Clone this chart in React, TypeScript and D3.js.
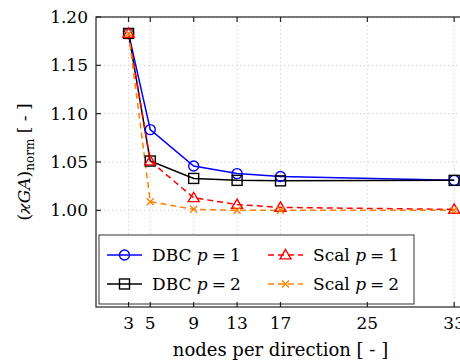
import React from "react";
import * as d3 from "d3";

const nodes = [3, 5, 9, 13, 17, 33];
const dbcP1 = [1.183, 1.0835, 1.0458, 1.038, 1.035, 1.031];
const dbcP2 = [1.183, 1.051, 1.033, 1.031, 1.0305, 1.031];
const scalP1 = [1.183, 1.051, 1.013, 1.006, 1.003, 1.001];
const scalP2 = [1.183, 1.009, 1.001, 1.0, 1.0, 1.0];
const xTicks = [3, 5, 9, 13, 17, 25, 33];
const yTicks = [1.0, 1.05, 1.1, 1.15, 1.2];

const W = 460, H = 363;
const L = 96, T = 17, R = 465, B = 307;
const FONT = "'DejaVu Serif', 'Liberation Serif', serif";

type Series = { name: string; p: string; values: number[]; color: string; dash?: string; marker: string };
const series: Series[] = [
  { name: "DBC", p: "1", values: dbcP1, color: "#0000ff", marker: "circle" },
  { name: "DBC", p: "2", values: dbcP2, color: "#000000", marker: "square" },
  { name: "Scal", p: "1", values: scalP1, color: "#ff0000", dash: "6,4", marker: "triangle" },
  { name: "Scal", p: "2", values: scalP2, color: "#ff8000", dash: "6,4", marker: "cross" },
];

function Marker({ kind, x, y, color }: { kind: string; x: number; y: number; color: string }) {
  if (kind === "circle") return <circle cx={x} cy={y} r={5} fill="none" stroke={color} strokeWidth={1.4} />;
  if (kind === "square") return <rect x={x - 5} y={y - 5} width={10} height={10} fill="none" stroke={color} strokeWidth={1.4} />;
  if (kind === "triangle") {
    const s = 5.5;
    return <path d={`M${x},${y - s}L${x + s},${y + s * 0.7}L${x - s},${y + s * 0.7}Z`} fill="none" stroke={color} strokeWidth={1.4} />;
  }
  const s = 3.5;
  return <path d={`M${x - s},${y - s}L${x + s},${y + s}M${x - s},${y + s}L${x + s},${y - s}`} stroke={color} strokeWidth={1.4} />;
}

export default function App() {
  const x = d3.scaleLinear().domain([0, 34]).range([L, R]);
  const y = d3.scaleLinear().domain([0.9, 1.2]).range([B, T]);
  const line = d3.line<[number, number]>().x((d) => x(d[0])).y((d) => y(d[1]));

  const legend = { x0: 99, y0: 235, x1: 414, y1: 304 };
  const legendItems = [
    { s: series[0], lx: 107, tx: 152, ly: 255 },
    { s: series[1], lx: 107, tx: 152, ly: 284 },
    { s: series[2], lx: 268, tx: 313, ly: 255 },
    { s: series[3], lx: 268, tx: 313, ly: 284 },
  ];

  return (
    <svg width={W} height={H} style={{ position: "absolute", left: 0, top: 0 }} fontFamily={FONT}>
      <rect width={W} height={H} fill="white" />
      {/* grid */}
      {xTicks.map((t) => (
        <line key={"gx" + t} x1={x(t)} x2={x(t)} y1={T} y2={B} stroke="#c8c8c8" strokeWidth={1} strokeDasharray="1,3" />
      ))}
      {yTicks.map((t) => (
        <line key={"gy" + t} x1={L} x2={R} y1={y(t)} y2={y(t)} stroke="#c8c8c8" strokeWidth={1} strokeDasharray="1,3" />
      ))}
      {/* series lines */}
      {series.map((s, i) => (
        <path
          key={"l" + i}
          d={line(nodes.map((n, j) => [n, s.values[j]] as [number, number])) || ""}
          fill="none"
          stroke={s.color}
          strokeWidth={1.5}
          strokeDasharray={s.dash}
        />
      ))}
      {series.map((s, i) =>
        nodes.map((n, j) => <Marker key={"m" + i + "-" + j} kind={s.marker} x={x(n)} y={y(s.values[j])} color={s.color} />)
      )}
      {/* legend */}
      <rect x={legend.x0} y={legend.y0} width={legend.x1 - legend.x0} height={legend.y1 - legend.y0} fill="white" stroke="#333" strokeWidth={1} />
      {legendItems.map((it, i) => (
        <g key={"lg" + i}>
          <line x1={it.lx} x2={it.lx + 35} y1={it.ly} y2={it.ly} stroke={it.s.color} strokeWidth={1.5} strokeDasharray={it.s.dash} />
          <Marker kind={it.s.marker} x={it.lx + 17.5} y={it.ly} color={it.s.color} />
          <text x={it.tx} y={it.ly} dy="0.35em" fontSize={17} fill="#000">
            {it.s.name + " "}
            <tspan fontStyle="italic">p</tspan>
            <tspan dx="4">=</tspan>
            <tspan dx="4">{it.s.p}</tspan>
          </text>
        </g>
      ))}
      {/* frame */}
      <rect x={L} y={T} width={R - L} height={B - T} fill="none" stroke="#222" strokeWidth={1.2} />
      {xTicks.map((t) => (
        <g key={"tx" + t}>
          <line x1={x(t)} x2={x(t)} y1={B} y2={B - 5} stroke="#222" strokeWidth={1.2} />
          <line x1={x(t)} x2={x(t)} y1={T} y2={T + 5} stroke="#222" strokeWidth={1.2} />
          <text x={x(t)} y={B + 16} dy="0.35em" textAnchor="middle" fontSize={17} fill="#000">{t}</text>
        </g>
      ))}
      {yTicks.map((t) => (
        <g key={"ty" + t}>
          <line x1={L} x2={L + 5} y1={y(t)} y2={y(t)} stroke="#222" strokeWidth={1.2} />
          <line x1={R} x2={R - 5} y1={y(t)} y2={y(t)} stroke="#222" strokeWidth={1.2} />
          <text x={L - 8} y={y(t)} dy="0.35em" textAnchor="end" fontSize={17} fill="#000">{t.toFixed(2)}</text>
        </g>
      ))}
      {/* axis labels */}
      <text x={(L + R) / 2} y={350} dy="0.35em" textAnchor="middle" fontSize={18} fill="#000">nodes per direction [ - ]</text>
      <text transform={`translate(24,${(T + B) / 2}) rotate(-90)`} textAnchor="middle" dy="0.35em" fontSize={17} fill="#000">
        (<tspan fontStyle="italic">ϰGA</tspan>)<tspan fontSize={12} dy="4">norm</tspan>
        <tspan dy="-4">{" [ - ]"}</tspan>
      </text>
    </svg>
  );
}
